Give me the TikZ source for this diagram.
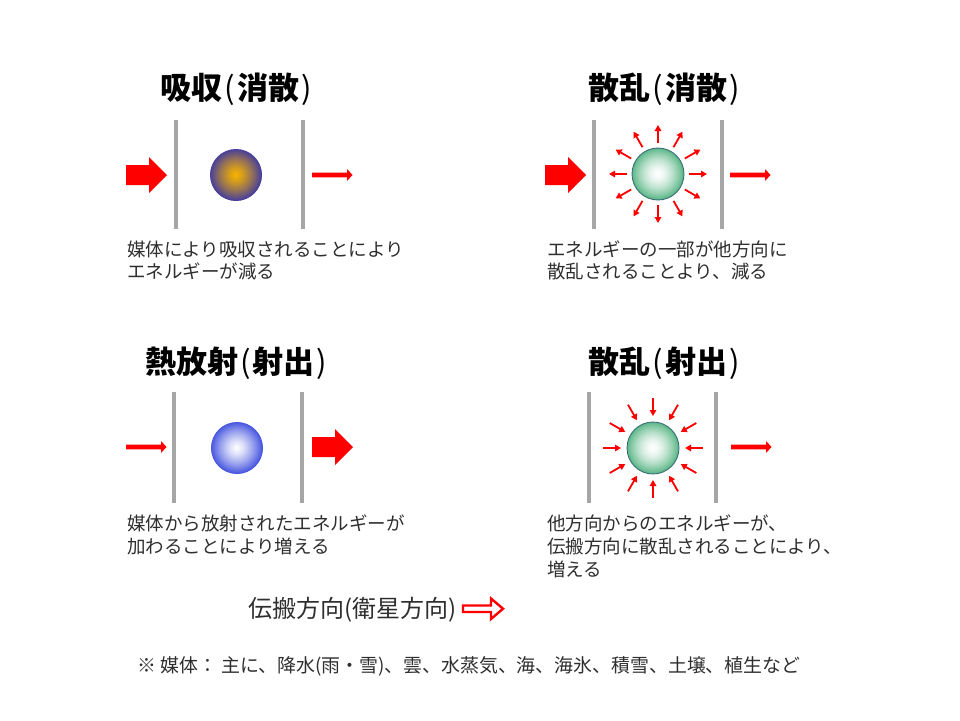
\documentclass[tikz,border=0pt]{standalone}
\usepackage{fontspec}
\setmainfont{Noto Sans CJK JP}
\usetikzlibrary{arrows.meta}
\definecolor{barg}{HTML}{A6A6A6}
\definecolor{txtc}{HTML}{2E2E2E}
\definecolor{sunc}{HTML}{F7B400}
\definecolor{edgeA}{HTML}{473E9C}
\definecolor{grnE}{HTML}{5AB786}
\definecolor{grnO}{HTML}{3D6E7A}
\definecolor{bluE}{HTML}{4656E0}
\newcommand\GradBall[5]{%
  \foreach \i in {0,...,52}{%
    \pgfmathsetmacro\ff{1-\i/52}%
    \pgfmathsetmacro\pp{100*(\ff)^(#5)}%
    \fill[#4!\pp!#3] #1 circle ({#2*\ff});%
  }}
\newcommand\LP{\kern2pt{\mdseries(}\kern2pt}
\newcommand\RP{\kern2pt{\mdseries)}\kern2pt}
\begin{document}
\begin{tikzpicture}[x=1pt,y=-1pt,
  bar/.style={draw=barg,line width=4pt},
  body/.style={font=\fontsize{18.5}{22}\selectfont, text=txtc, anchor=west, inner sep=0pt, text height=16.3pt, text depth=2.2pt},
  ttl/.style={font=\bfseries\fontsize{31}{36}\selectfont, text=black, inner sep=0pt, text height=27.3pt, text depth=3.7pt},
  ray/.style={draw=red, line width=1.8pt, -{Triangle[length=6pt,width=6.5pt]}},
  bigarrow/.pic={\fill[red] (0,-10) -- (23,-10) -- (23,-18) -- (41,0) -- (23,18) -- (23,10) -- (0,10) -- cycle;},
  thinarrow/.pic={\fill[red] (0,-2.4) -- (35,-2.4) -- (35,-6) -- (40.5,0) -- (35,6) -- (35,2.4) -- (0,2.4) -- cycle;}
]
\useasboundingbox (0,0) rectangle (960,720);

% Panel 1: absorption
\node[ttl] (t1) at (237,88) {吸収\LP 消散\RP};
\draw[bar] (176,120) -- (176,229);
\draw[bar] (303,120) -- (303,229);
\pic at (126,175) {bigarrow};
\GradBall{(236,175)}{26}{sunc}{edgeA}{1.25}
\pic at (312,175) {thinarrow};
\node[body] (d1a) at (127,249) {媒体により吸収されることにより};
\node[body] (d1b) at (127,271) {エネルギーが減る};

% Panel 2: scattering (extinction)
\node[ttl] (t2) at (665,88) {散乱\LP 消散\RP};
\draw[bar] (594,120) -- (594,229);
\draw[bar] (722,120) -- (722,229);
\pic at (545,175) {bigarrow};
\foreach \a in {0,30,...,330}
  \draw[ray, shift={(658,174)}] (\a:31) -- (\a:49);
\GradBall{(658,174)}{26}{white}{grnE}{1.6}
\draw[grnO, line width=0.9pt] (658,174) circle (26);
\pic at (730,175) {thinarrow};
\node[body] (d2a) at (547,249) {エネルギーの一部が他方向に};
\node[body] (d2b) at (547,271) {散乱されることより、減る};

% Panel 3: thermal emission
\node[ttl] (t3) at (237,362) {熱放射\LP 射出\RP};
\draw[bar] (174,392) -- (174,503);
\draw[bar] (302,392) -- (302,503);
\pic at (126,447) {thinarrow};
\GradBall{(237,448)}{26}{white}{bluE}{1.3}
\pic at (312,447) {bigarrow};
\node[body] (d3a) at (127,523) {媒体から放射されたエネルギーが};
\node[body] (d3b) at (127,546) {加わることにより増える};

% Panel 4: scattering (emission)
\node[ttl] (t4) at (665,362) {散乱\LP 射出\RP};
\draw[bar] (589,392) -- (589,503);
\draw[bar] (716,392) -- (716,503);
\foreach \a in {0,30,...,330}
  \draw[ray, shift={(653,448)}] (\a:50) -- (\a:32);
\GradBall{(653,448)}{26}{white}{grnE}{1.6}
\draw[grnO, line width=0.9pt] (653,448) circle (26);
\pic at (731,447) {thinarrow};
\node[body] (d4a) at (547,523) {他方向からのエネルギーが、};
\node[body] (d4b) at (547,546) {伝搬方向に散乱されることにより、};
\node[body] (d4c) at (547,569) {増える};

% Legend
\node[font=\fontsize{24}{28}\selectfont, text=txtc, anchor=west, inner sep=0pt, text height=21.1pt, text depth=2.9pt] (prop) at (248,608) {伝搬方向(衛星方向)};
\draw[red, line width=2.4pt, fill=white, line join=miter]
  (463,605.5) -- (491,605.5) -- (491,598.5) -- (503,608.7) -- (491,619) -- (491,612) -- (463,612) -- cycle;
\node[body, font=\fontsize{18.9}{22}\selectfont] (note) at (137,665) {※ 媒体： 主に、降水(雨・雪)、雲、水蒸気、海、海氷、積雪、土壌、植生など};
\end{tikzpicture}
\end{document}
